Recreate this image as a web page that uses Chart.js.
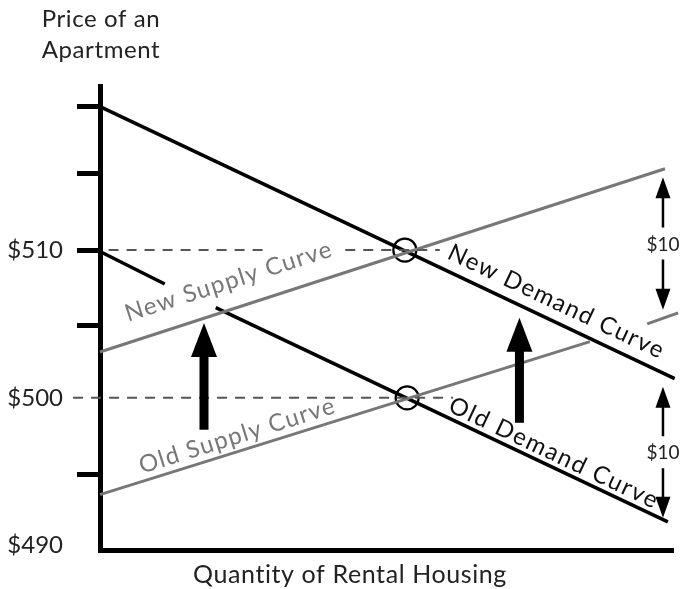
<!DOCTYPE html>
<html>
<head>
<meta charset="utf-8">
<script src="https://cdn.jsdelivr.net/npm/chart.js@4.4.1/dist/chart.umd.min.js"></script>
<style>
  body { margin: 0; background: #fff; }
  #wrap { width: 687px; height: 589px; }
</style>
</head>
<body>
<div id="wrap"><canvas id="supplyChart" width="687" height="589"></canvas></div>
<script>
// values (x = quantity, 0..100 ; y = price in $)
const newDemand = [[0, 519.7], [100.3, 501.3]];
const oldDemandA = [[0, 509.9], [11.3, 507.7]];
const oldDemandB = [[20.2, 506.1], [99.1, 491.6]];
const newSupply = [[0, 503.1], [98.6, 515.5]];
const oldSupplyA = [[0, 493.45], [85.5, 503.8]];
const oldSupplyB = [[95.5, 505.0], [100.9, 505.75]];
const equilibria = [[53.2, 510], [53.6, 500]];
const dash510A = [[1.5, 510], [29.1, 510]];
const dash510B = [[42.8, 510], [59.3, 510]];
const dash500 = [[-4.7, 500], [61.6, 500]];

const yTickValues = [490, 494.8, 500, 504.9, 510, 515.2, 519.7];
const yTickLabels = ['$490', '', '$500', '', '$510', '', ''];
const yTickMarks = [false, true, false, true, true, true, true];

// shift arrows: [x, from y, to y]
const shiftArrows = [[18.15, 497.84, 505.07], [73.2, 498.31, 505.41]];
// $10 arrows: [x, top y, bottom y]
const gapArrows = [[98.25, 514.93, 505.95], [98.25, 500.74, 491.89]];
const gapLabels = ['$10', '$10'];

// curve names with baseline start / end in data units
const curveNames = ['New Supply Curve', 'Old Supply Curve', 'New Demand Curve', 'Old Demand Curve'];
const curveLabelFrom = [[4.89, 505.14], [7.33, 494.86], [60.38, 509.46], [60.56, 499.12]];
const curveLabelTo = [[40.66, 509.59], [41.19, 498.99], [97.56, 502.64], [96.51, 492.5]];

const yTitle = ['Price of an', 'Apartment'];
const xTitle = 'Quantity of Rental Housing';

const FONT = 'Lato, "Open Sans", sans-serif';
const GRAY = '#777';

function pts(arr) {
    return arr.map(p => ({ x: p[0], y: p[1] }));
}

function lineSet(arr, color, width, dash) {
    return {
        data: pts(arr),
        showLine: true,
        borderColor: color,
        borderWidth: width,
        borderDash: dash || [],
        pointRadius: 0,
        pointHoverRadius: 0,
        clip: false
    };
}

function spaced(ctx, px) {
    if ('letterSpacing' in ctx) ctx.letterSpacing = px + 'px';
}

const decorations = {
    id: 'decorations',
    afterDatasetsDraw(chart) {
        const ctx = chart.ctx;
        const xs = chart.scales.x;
        const ys = chart.scales.y;
        const px = v => xs.getPixelForValue(v);
        const py = v => ys.getPixelForValue(v);

        ctx.save();

        // curve names along the lines
        for (let i = 0; i < curveNames.length; i++) {
            const x1 = px(curveLabelFrom[i][0]), y1 = py(curveLabelFrom[i][1]);
            const x2 = px(curveLabelTo[i][0]), y2 = py(curveLabelTo[i][1]);
            const len = Math.hypot(x2 - x1, y2 - y1);
            const ang = Math.atan2(y2 - y1, x2 - x1);
            ctx.save();
            ctx.translate(x1, y1);
            ctx.rotate(ang);
            ctx.font = '24px ' + FONT;
            ctx.fillStyle = i < 2 ? GRAY : '#111';
            ctx.textAlign = 'left';
            ctx.textBaseline = 'alphabetic';
            spaced(ctx, 0);
            const w0 = ctx.measureText(curveNames[i]).width;
            if ('letterSpacing' in ctx) {
                spaced(ctx, ((len - w0) / (curveNames[i].length - 1)).toFixed(2));
            } else {
                ctx.scale(len / w0, 1);
            }
            ctx.fillText(curveNames[i], 0, 0);
            ctx.restore();
        }
        spaced(ctx, 0);

        // big shift arrows
        ctx.fillStyle = '#000';
        shiftArrows.forEach(a => {
            const x = px(a[0]), yb = py(a[1]), yt = py(a[2]);
            const headLen = 34, headW = 13, shaft = 4.5;
            ctx.fillRect(x - shaft, yt + headLen - 1, shaft * 2, yb - yt - headLen + 1);
            ctx.beginPath();
            ctx.moveTo(x, yt);
            ctx.lineTo(x - headW, yt + headLen);
            ctx.lineTo(x + headW, yt + headLen);
            ctx.closePath();
            ctx.fill();
        });

        // $10 double arrows
        gapArrows.forEach((a, i) => {
            const x = px(a[0]), yt = py(a[1]), yb = py(a[2]);
            const mid = (yt + yb) / 2;
            const headLen = 21, headW = 7.5;
            ctx.strokeStyle = '#000';
            ctx.lineWidth = 2.5;
            ctx.beginPath();
            ctx.moveTo(x, yt + headLen - 1);
            ctx.lineTo(x, mid - 16);
            ctx.moveTo(x, mid + 16);
            ctx.lineTo(x, yb - headLen + 1);
            ctx.stroke();
            ctx.beginPath();
            ctx.moveTo(x, yt);
            ctx.lineTo(x - headW, yt + headLen);
            ctx.lineTo(x + headW, yt + headLen);
            ctx.closePath();
            ctx.moveTo(x, yb);
            ctx.lineTo(x - headW, yb - headLen);
            ctx.lineTo(x + headW, yb - headLen);
            ctx.closePath();
            ctx.fill();
            ctx.font = '19px ' + FONT;
            ctx.fillStyle = '#222';
            ctx.textAlign = 'center';
            ctx.textBaseline = 'middle';
            ctx.fillText(gapLabels[i], x, mid + 1);
            ctx.fillStyle = '#000';
        });

        // axis titles
        ctx.fillStyle = '#222';
        ctx.textAlign = 'center';
        ctx.textBaseline = 'alphabetic';
        ctx.font = '24px ' + FONT;
        spaced(ctx, 0.6);
        ctx.fillText(yTitle[0], 101, 27);
        ctx.fillText(yTitle[1], 101, 58);
        ctx.font = '25px ' + FONT;
        spaced(ctx, 0.6);
        ctx.fillText(xTitle, 350, 583);
        spaced(ctx, 0);

        ctx.restore();
    }
};

let ctx = document.getElementById('supplyChart').getContext('2d');

let supplyChart = new Chart(ctx, {
    type: 'scatter',
    data: {
        datasets: [
            lineSet(dash510A, '#555', 2, [10, 8]),
            lineSet(dash510B, '#555', 2, [10, 8]),
            lineSet(dash500, '#555', 2, [10, 8]),
            lineSet(newSupply, GRAY, 3),
            lineSet(oldSupplyA, GRAY, 3),
            lineSet(oldSupplyB, GRAY, 3),
            lineSet(newDemand, '#000', 3.5),
            lineSet(oldDemandA, '#000', 3.5),
            lineSet(oldDemandB, '#000', 3.5),
            {
                data: pts(equilibria),
                pointRadius: 11.5,
                pointHoverRadius: 11.5,
                pointBackgroundColor: '#fff',
                pointBorderColor: '#000',
                pointBorderWidth: 2.2,
                clip: false
            }
        ]
    },
    options: {
        responsive: false,
        maintainAspectRatio: false,
        animation: false,
        events: [],
        layout: {
            padding: { left: 0, right: 14, top: 86, bottom: 39 }
        },
        plugins: {
            legend: { display: false },
            tooltip: { enabled: false },
            title: { display: false }
        },
        scales: {
            x: {
                type: 'linear',
                min: 0,
                max: 100,
                afterFit: s => { s.height = 0; },
                ticks: { display: false },
                grid: { display: false },
                border: { display: true, width: 5, color: '#000' }
            },
            y: {
                type: 'linear',
                min: 489.7,
                max: 521.1,
                afterFit: s => { s.width = 100; },
                afterBuildTicks: s => {
                    s.ticks = yTickValues.map(v => ({ value: v }));
                },
                ticks: {
                    padding: 14,
                    color: '#222',
                    font: { family: FONT, size: 24 },
                    callback: (value, index) => yTickLabels[index]
                },
                grid: {
                    drawOnChartArea: false,
                    drawTicks: true,
                    tickLength: 23,
                    tickWidth: 5,
                    tickColor: c => yTickMarks[c.index] ? '#000' : 'rgba(0,0,0,0)'
                },
                border: { display: true, width: 5, color: '#000' }
            }
        }
    },
    plugins: [decorations]
});
</script>
</body>
</html>
